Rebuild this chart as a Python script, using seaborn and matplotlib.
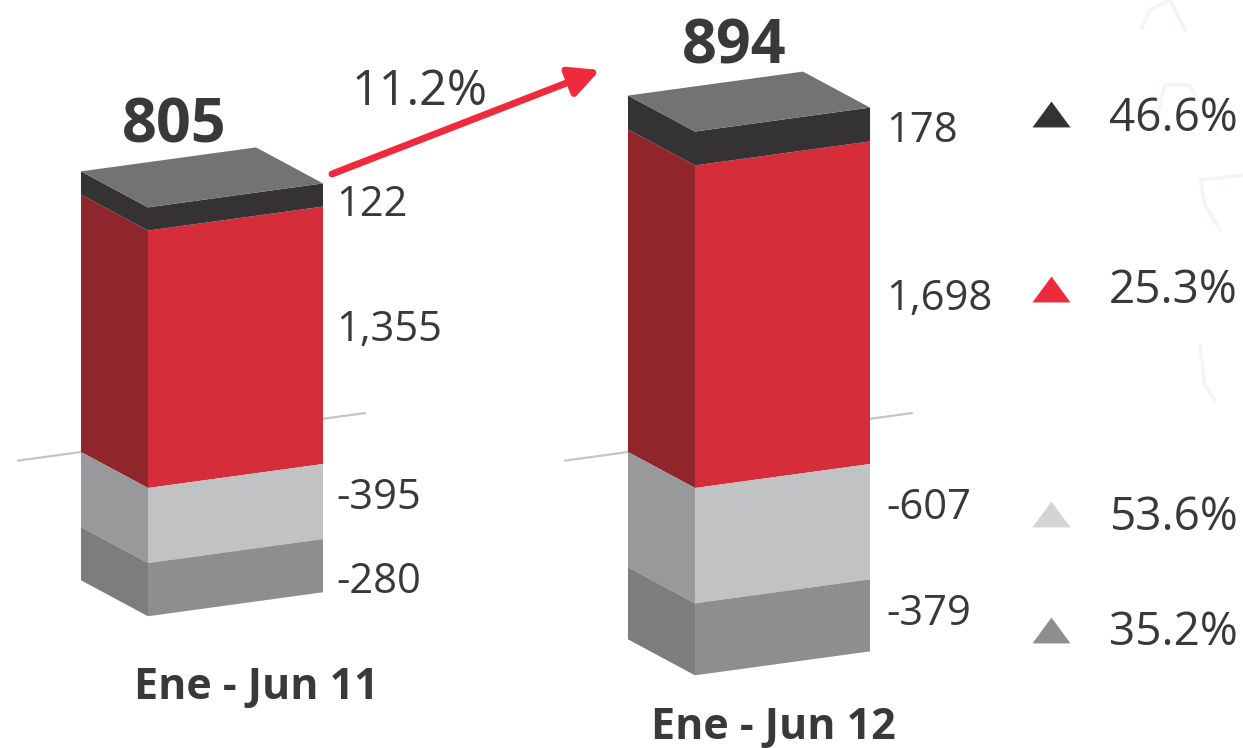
import numpy as np
import pandas as pd
import matplotlib
matplotlib.use('Agg')
import matplotlib.pyplot as plt
from matplotlib.patches import Polygon
from matplotlib.transforms import Affine2D
import seaborn as sns

# Chart values
periods = ['Ene - Jun 11', 'Ene - Jun 12']
totals = [805, 894]
black_vals = [122, 178]
red_vals = [1355, 1698]
light_vals = [-395, -607]
dark_vals = [-280, -379]
growth = '11.2%'
changes = ['46.6%', '25.3%', '53.6%', '35.2%']

sns.set_theme(style='white')
plt.rcParams['font.family'] = ['Open Sans', 'DejaVu Sans']
TXT = '#3a3839'

fig = plt.figure(figsize=(12.43, 7.48), dpi=100)
ax = fig.add_axes([0, 0, 1, 1])

# pixel layout -> data units
px_per_x, px_per_val = 547.0, 0.19
x0_px, y0_px = 235.5, 488.0
bar_w = 0.32
skew = 0.137 * px_per_x / px_per_val
dep_x, dep_y = -67 / px_per_x, 36 / px_per_val


def skew_for(xl):
    return Affine2D.from_values(1, skew, 0, 1, 0, -skew * xl) + ax.transData


layers = [
    (red_vals, np.zeros(2), '#d62d3a', '#8f262b'),
    (black_vals, np.array(red_vals, float), '#353233', '#353233'),
    (light_vals, np.zeros(2), '#c1c2c4', '#98999b'),
    (dark_vals, np.array(light_vals, float), '#8d8e90', '#7c7d7f'),
]

for vals, base, front, side in layers:
    df = pd.DataFrame({'period': periods, 'value': vals})
    n = len(ax.patches)
    sns.barplot(data=df, x='period', y='value', order=periods, color=front, saturation=1,
                width=bar_w, bottom=base, linewidth=0, ax=ax, zorder=3)
    for p in ax.patches[n:]:
        xl, yb, h = p.get_x(), p.get_y(), p.get_height()
        p.set_transform(skew_for(xl))
        ax.add_patch(Polygon([(xl, yb), (xl, yb + h), (xl + dep_x, yb + h + dep_y), (xl + dep_x, yb + dep_y)],
                             closed=True, fc=side, ec='none', zorder=3))

# top faces and zero lines
for i in range(2):
    xl = i - bar_w / 2
    top = red_vals[i] + black_vals[i]
    rise = skew * bar_w
    ax.add_patch(Polygon([(xl, top), (xl + bar_w, top + rise), (xl + bar_w + dep_x, top + rise + dep_y),
                          (xl + dep_x, top + dep_y)], closed=True, fc='#717375', ec='none', zorder=4))
    lx = np.array([xl + dep_x - 63 / px_per_x, xl + bar_w + 42 / px_per_x])
    ax.plot(lx, dep_y + skew * (lx - (xl + dep_x)), color='#c4c5c6', lw=1.6, zorder=1)

ax.set_xlim(-x0_px / px_per_x, (1243 - x0_px) / px_per_x)
ax.set_ylim(-(748 - y0_px) / px_per_val, y0_px / px_per_val)
ax.axis('off')

# annotations are laid out in pixels on an overlay
ov = fig.add_axes([0, 0, 1, 1], facecolor='none')
ov.set_xlim(0, 1243)
ov.set_ylim(748, 0)
ov.axis('off')

# faint watermark at right
for sx, sy in [((1142, 1150, 1170, 1185), (28, 10, 0, 30)), ((1155, 1165, 1190, 1195), (125, 85, 85, 95)),
               ((1245, 1200, 1205, 1220), (175, 180, 205, 230)), ((1200, 1205, 1215), (345, 385, 400))]:
    ov.plot(sx, sy, color='#f8f2f0', lw=2.5, zorder=0)

ov.annotate('', xy=(600, 70), xytext=(332, 174),
            arrowprops=dict(arrowstyle='-|>,head_length=1.5,head_width=0.75', color='#ee2a3c', lw=5,
                            shrinkA=0, shrinkB=0))
ov.text(420, 92, growth, fontsize=35, color=TXT, ha='center', va='center')

for x, y, v in zip([174, 734], [127, 48], totals):
    ov.text(x, y, f'{v:,}', fontsize=44, weight='bold', color=TXT, ha='center', va='center')
for x, y, s in zip([256, 773], [687, 728], periods):
    ov.text(x, y, s, fontsize=31, weight='bold', color=TXT, ha='center', va='center')

ys_1 = [205, 330, 498, 582]
ys_2 = [131, 299, 508, 614]
vals_1 = [black_vals[0], red_vals[0], light_vals[0], dark_vals[0]]
vals_2 = [black_vals[1], red_vals[1], light_vals[1], dark_vals[1]]
for y, v in zip(ys_1, vals_1):
    ov.text(336, y, f'{v:,}', fontsize=30, color=TXT, ha='left', va='center')
for y, v in zip(ys_2, vals_2):
    ov.text(886, y, f'{v:,}', fontsize=30, color=TXT, ha='left', va='center')

tri_cols = ['#353233', '#ee2a3c', '#d3d4d5', '#8d8e90']
tri_ys = [114, 289, 514, 630]
txt_ys = [119, 291, 518, 633]
tri_marker = [(-1, -0.68), (1, -0.68), (0, 0.68)]
for c, ty, ly, s in zip(tri_cols, tri_ys, txt_ys, changes):
    ov.scatter([1051], [ty], marker=tri_marker, s=750, color=c, linewidths=0)
    ov.text(1109, ly, s, fontsize=33, color=TXT, ha='left', va='center')

fig.savefig('out.png', dpi=100)
